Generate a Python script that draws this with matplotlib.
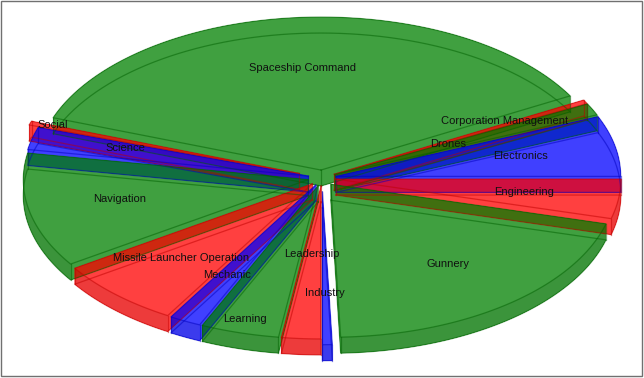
import numpy as np
import matplotlib
matplotlib.use('Agg')
import matplotlib.pyplot as plt
from matplotlib.path import Path
from matplotlib.patches import PathPatch, Rectangle

plt.rcParams['font.family'] = ['Liberation Sans', 'DejaVu Sans']

# Skills, going clockwise from the right, and their share of the pie
skills = ['Corporation Management', 'Drones', 'Electronics', 'Engineering', 'Gunnery',
          'Industry', 'Leadership', 'Learning', 'Mechanic', 'Missile Launcher Operation',
          'Navigation', 'Science', 'Social', 'Spaceship Command']
values = [1.5, 4.5, 23, 15, 73, 2, 8, 16, 6.5, 26, 43.5, 8.5, 1.5, 131]

colors = ['red', 'green', 'blue'] * 5
explode = [14] * 14
explode[5] = 24
explode[12] = 24

label_xy = [(505, 121), (448, 144), (521, 156), (524, 192), (448, 264), (325, 293),
            (312, 254), (245, 319), (227, 275), (181, 258), (120, 199), (125, 148),
            (53, 125), (303, 68)]

# pie geometry in pixels
cx, cy = 322, 178
rx, ry = 285, 153
depth = 16
start = -29
draw_order = [13, 12, 11, 10, 9, 8, 7, 0, 1, 2, 3, 4, 5, 6]

rgb = {'red': (1, 0, 0), 'green': (0, 0.5, 0), 'blue': (0, 0, 1)}
alpha = 0.75


def ccw(poly):
    x, y = poly[:, 0], poly[:, 1]
    if np.sum(x * np.roll(y, -1) - np.roll(x, -1) * y) < 0:
        return poly[::-1]
    return poly


def compound(polys):
    verts, codes = [], []
    for p in polys:
        p = ccw(np.asarray(p))
        verts += list(p) + [p[0]]
        codes += [Path.MOVETO] + [Path.LINETO] * (len(p) - 1) + [Path.CLOSEPOLY]
    return Path(verts, codes)


fig = plt.figure(figsize=(6.44, 3.78), dpi=100)
ax = fig.add_axes([0, 0, 1, 1])
ax.set_xlim(0, 644)
ax.set_ylim(378, 0)
ax.axis('off')

edges = np.radians(start + np.cumsum([0] + values))

for i in draw_order:
    t0, t1 = edges[i], edges[i + 1]
    tm = (t0 + t1) / 2
    ax0 = cx + explode[i] * np.cos(tm)
    ay0 = cy + explode[i] * 0.57 * np.sin(tm)
    ts = np.linspace(t0, t1, max(int(np.degrees(t1 - t0)), 2) + 1)
    rim = np.column_stack([ax0 + rx * np.cos(ts), ay0 + ry * np.sin(ts)])
    apex = np.array([ax0, ay0])
    down = np.array([0, depth])

    top = np.vstack([apex, rim])
    bottom = top + down
    # radial walls and the curved wall, all in one path so the slice only shades once
    polys = [top, bottom,
             [apex, rim[0], rim[0] + down, apex + down],
             [apex, rim[-1], rim[-1] + down, apex + down]]
    for a, b in zip(rim[:-1], rim[1:]):
        polys.append([a, b, b + down, a + down])
    ax.add_patch(PathPatch(compound(polys), facecolor=rgb[colors[i]] + (alpha,),
                           edgecolor='none', lw=0, zorder=2))

    # outer wall a little darker when it faces us
    if np.sin(tm) > 0:
        wall = np.vstack([rim, (rim + down)[::-1]])
        ax.fill(wall[:, 0], wall[:, 1], color='black', alpha=0.07, lw=0, zorder=2)

    line = dict(color=tuple(0.75 * c for c in rgb[colors[i]]), alpha=0.5, lw=0.9, zorder=3)
    ax.plot(*np.vstack([top, top[0]]).T, **line)
    ax.plot(*np.vstack([bottom, bottom[0]]).T, **line)
    for corner in (apex, rim[0], rim[-1]):
        ax.plot([corner[0], corner[0]], [corner[1], corner[1] + depth], **line)

for name, (x, y) in zip(skills, label_xy):
    ax.text(x, y, name, fontsize=8.0, color='#101010', ha='center', va='center', zorder=5)

ax.add_patch(Rectangle((1, 0.5), 641.5, 375.5, fill=False, edgecolor='#707070', lw=1, zorder=6))

fig.savefig('out.png', dpi=100)
